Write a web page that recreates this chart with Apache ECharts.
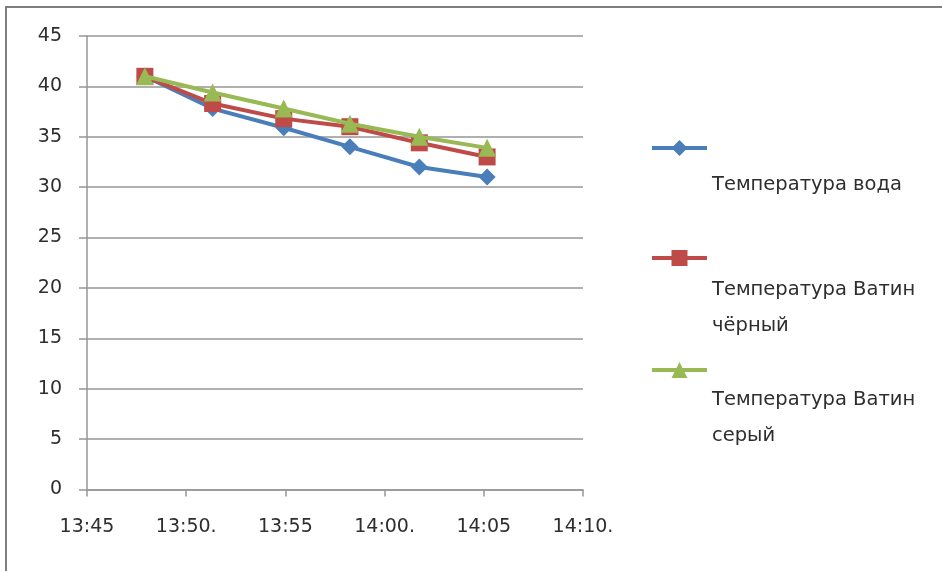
<!DOCTYPE html>
<html>
<head>
<meta charset="utf-8">
<script src="https://cdn.jsdelivr.net/npm/echarts@6/dist/echarts.min.js"></script>
<style>
  html, body { margin: 0; padding: 0; background: #ffffff; }
  #chart { width: 942px; height: 571px; }
</style>
</head>
<body>
<div id="chart"></div>
<script>
// Measurement times (hh:mm:ss)
const times = ['13:47:55', '13:51:20', '13:54:55', '13:58:15', '14:01:45', '14:05:10'];

// Temperatures, °C
const waterTemp = [41, 37.8, 35.9, 34, 32, 31];
const blackBattingTemp = [41, 38.3, 36.8, 36, 34.4, 33];
const greyBattingTemp = [41, 39.4, 37.8, 36.3, 35, 33.9];

const seriesNames = ['Температура вода', 'Температура Ватин чёрный', 'Температура Ватин серый'];
const legendLines = [
  ['Температура вода'],
  ['Температура Ватин', 'чёрный'],
  ['Температура Ватин', 'серый']
];

// X axis tick labels (every 5 minutes from 13:45)
const xTickLabels = ['13:45', '13:50.', '13:55', '14:00.', '14:05', '14:10.'];
const xStartMinutes = 13 * 60 + 45;

function toMinutes(t) {
  const p = t.split(':').map(Number);
  return p[0] * 60 + p[1] + (p[2] || 0) / 60;
}

function pairs(values) {
  return times.map((t, i) => [toMinutes(t), values[i]]);
}

const fontFamily = '"DejaVu Sans", "Noto Sans", sans-serif';
const textColor = '#2e2e2e';
const gridColor = '#969696';
const colors = ['#4A7EBB', '#BE4B48', '#98B954'];
const symbols = ['diamond', 'rect', 'triangle'];
const symbolSizes = [17, 17, 18];
const dataSets = [waterTemp, blackBattingTemp, greyBattingTemp];

// Legend: icon row, then the caption on the lines underneath it
const legendIconY = [148, 258, 370];
const legendSpacer = [74, 100, 96];
const lineH = 36;

const chart = echarts.init(document.getElementById('chart'), null, { renderer: 'canvas' });

chart.setOption({
  animation: false,
  backgroundColor: '#ffffff',
  grid: { left: 87, right: 359, top: 36, bottom: 81.5, containLabel: false },
  xAxis: {
    type: 'value',
    min: xStartMinutes,
    max: xStartMinutes + 25,
    interval: 5,
    axisLine: { show: true, lineStyle: { color: gridColor, width: 1.5 } },
    axisTick: { show: true, length: 7, lineStyle: { color: gridColor, width: 1.5 } },
    splitLine: { show: false },
    axisLabel: {
      margin: 28,
      fontSize: 19,
      fontFamily: fontFamily,
      color: textColor,
      formatter: function (v) {
        const idx = Math.round((v - xStartMinutes) / 5);
        return xTickLabels[idx] !== undefined ? xTickLabels[idx] : '';
      }
    }
  },
  yAxis: {
    type: 'value',
    min: 0,
    max: 45,
    interval: 5,
    axisLine: { show: true, lineStyle: { color: gridColor, width: 1.5 } },
    axisTick: { show: true, length: 8, lineStyle: { color: gridColor, width: 1.5 } },
    splitLine: { show: true, lineStyle: { color: gridColor, width: 1.5 } },
    axisLabel: {
      margin: 25,
      fontSize: 19,
      fontFamily: fontFamily,
      color: textColor
    }
  },
  legend: seriesNames.map((name, i) => {
    const total = legendSpacer[i] + lineH * legendLines[i].length;
    return {
      data: [name],
      orient: 'vertical',
      left: 650,
      top: legendIconY[i] - total / 2,
      padding: 0,
      itemWidth: 55,
      itemHeight: 20,
      itemGap: 0,
      selectedMode: false,
      lineStyle: { width: 4 },
      formatter: function () {
        return '{s| }\n' + legendLines[i].map(l => '{t|' + l + '}').join('\n');
      },
      textStyle: {
        rich: {
          s: { height: legendSpacer[i], lineHeight: legendSpacer[i], fontSize: 10 },
          t: { fontSize: 19.5, lineHeight: lineH, fontFamily: fontFamily, color: textColor }
        }
      }
    };
  }),
  series: dataSets.map((vals, i) => ({
    name: seriesNames[i],
    type: 'line',
    data: pairs(vals),
    symbol: symbols[i],
    symbolSize: symbolSizes[i],
    showAllSymbol: true,
    lineStyle: { color: colors[i], width: 4 },
    itemStyle: { color: colors[i], borderColor: colors[i], borderWidth: 0 },
    z: 2 + i
  })),
  graphic: [
    {
      type: 'polyline',
      silent: true,
      shape: { points: [[6, 571], [6, 7], [942, 7]] },
      style: { stroke: '#7f7f7f', lineWidth: 2, fill: null }
    }
  ]
});
</script>
</body>
</html>
